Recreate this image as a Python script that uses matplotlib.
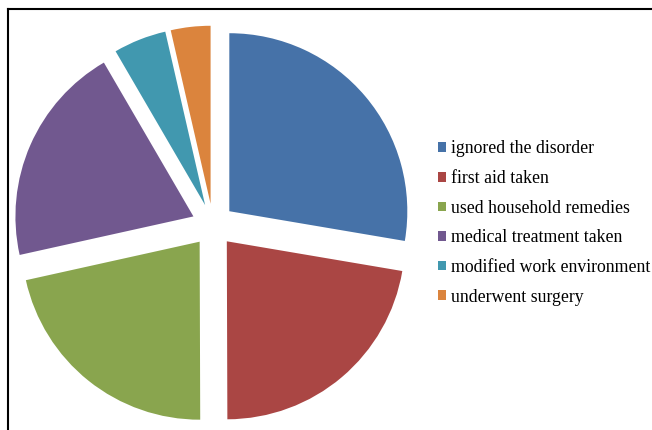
import matplotlib.pyplot as plt
from matplotlib.lines import Line2D

labels = ['ignored the disorder', 'first aid taken', 'used household remedies',
          'medical treatment taken', 'modified work environment', 'underwent surgery']
values = [27.7, 22.3, 21.6, 20.1, 4.8, 3.6]
colors = ['#4672A8', '#AA4644', '#89A54E', '#71588F', '#4198AF', '#DB843D']

W, H = 652, 430
fig = plt.figure(figsize=(W / 100, H / 100), dpi=100)

# pie centre ~ (213, 225) px, radius ~178 px
r_px = 178
lim = 1.15
size = 2 * lim * r_px
cx, cy = 213, H - 225
ax = fig.add_axes([(cx - size / 2) / W, (cy - size / 2) / H, size / W, size / H])
wedges, _ = ax.pie(values, colors=colors, startangle=90, counterclock=False,
                   explode=[0.12] * len(values), radius=1)
ax.set_xlim(-lim, lim)
ax.set_ylim(-lim, lim)
ax.set_aspect('equal')
ax.axis('off')

# outer frame (only left and top edges visible)
fig.add_artist(Line2D([8 / W, 8 / W], [0, 1 - 9 / H], color='black', lw=1.5))
fig.add_artist(Line2D([8 / W, 1], [1 - 9 / H, 1 - 9 / H], color='black', lw=1.5))

fig.legend(wedges, labels, loc='center left', bbox_to_anchor=(438 / W, 1 - 223 / H),
           frameon=False, prop={'family': 'Liberation Serif', 'size': 12.8},
           handlelength=0.45, handleheight=0.45, handletextpad=0.3,
           labelspacing=0.71, borderpad=0, borderaxespad=0)

fig.savefig('out.png', dpi=100)
